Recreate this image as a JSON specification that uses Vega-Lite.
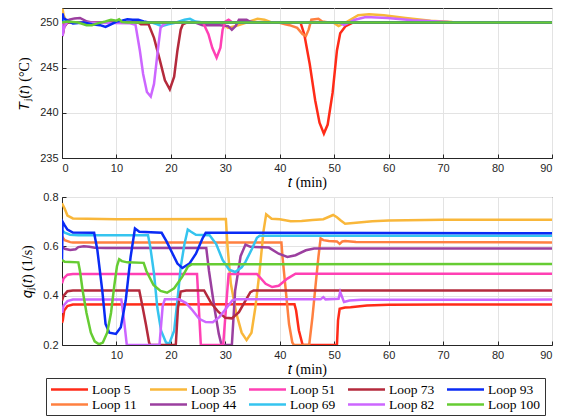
{
  "$schema": "https://vega.github.io/schema/vega-lite/v6.json",
  "background": "white",
  "padding": {"left": 17, "top": 7, "right": 8, "bottom": 0},
  "spacing": 0,
  "config": {
    "view": {"stroke": "#262626", "strokeWidth": 1},
    "axis": {
      "labelFont": "Liberation Sans", "labelFontSize": 11, "labelColor": "#262626",
      "titleFont": "Liberation Serif", "titleFontSize": 14, "titleFontWeight": "normal", "titleColor": "#000000",
      "domainColor": "#262626", "tickColor": "#262626", "tickSize": -4, "labelPadding": 8,
      "gridColor": "#e3e3e3", "gridWidth": 1
    },
    "legend": {
      "orient": "none", "legendX": -16, "legendY": 370, "direction": "horizontal", "columns": 5, "gridAlign": "all",
      "symbolType": "M-3,0L3,0", "symbolSize": 152, "symbolStrokeWidth": 2.5, "symbolOffset": 12,
      "labelFont": "Liberation Serif", "labelFontSize": 13.5, "labelColor": "#000000", "labelLimit": 0, "labelOffset": 15,
      "strokeColor": "#333333", "fillColor": "white", "padding": 4, "rowPadding": 1, "columnPadding": 0
    }
  },
  "datasets": {
    "T": [
      {"loop":"Loop 5","t":0,"v":250},{"loop":"Loop 5","t":0.1,"v":248.6},{"loop":"Loop 5","t":0.3,"v":249.6},{"loop":"Loop 5","t":0.7,"v":250.1},{"loop":"Loop 5","t":1.5,"v":250},{"loop":"Loop 5","t":43.8,"v":250},{"loop":"Loop 5","t":44.5,"v":248.7},{"loop":"Loop 5","t":45.5,"v":245.4},{"loop":"Loop 5","t":46.5,"v":241.4},{"loop":"Loop 5","t":47.3,"v":238.9},{"loop":"Loop 5","t":48.1,"v":237.7},{"loop":"Loop 5","t":48.8,"v":238.7},{"loop":"Loop 5","t":49.7,"v":242.2},{"loop":"Loop 5","t":50.5,"v":246.9},{"loop":"Loop 5","t":51.1,"v":248.8},{"loop":"Loop 5","t":52.1,"v":249.6},{"loop":"Loop 5","t":53.5,"v":250},{"loop":"Loop 5","t":90,"v":250},
      {"loop":"Loop 11","t":0,"v":250},{"loop":"Loop 11","t":0.1,"v":249.2},{"loop":"Loop 11","t":0.4,"v":250.1},{"loop":"Loop 11","t":1,"v":250},{"loop":"Loop 11","t":39.8,"v":250},{"loop":"Loop 11","t":41,"v":249.8},{"loop":"Loop 11","t":41.8,"v":249.7},{"loop":"Loop 11","t":43.2,"v":249.4},{"loop":"Loop 11","t":44.2,"v":248.7},{"loop":"Loop 11","t":44.8,"v":248.5},{"loop":"Loop 11","t":45.3,"v":249.2},{"loop":"Loop 11","t":45.8,"v":250.3},{"loop":"Loop 11","t":47.1,"v":250.4},{"loop":"Loop 11","t":47.8,"v":250.1},{"loop":"Loop 11","t":49,"v":250},{"loop":"Loop 11","t":90,"v":250},
      {"loop":"Loop 35","t":0,"v":250},{"loop":"Loop 35","t":0.1,"v":251.5},{"loop":"Loop 35","t":0.3,"v":250.8},{"loop":"Loop 35","t":0.8,"v":250.1},{"loop":"Loop 35","t":1.5,"v":250},{"loop":"Loop 35","t":29.2,"v":250},{"loop":"Loop 35","t":30.5,"v":249.4},{"loop":"Loop 35","t":31.9,"v":249.6},{"loop":"Loop 35","t":33.9,"v":250},{"loop":"Loop 35","t":35.9,"v":250.4},{"loop":"Loop 35","t":37.2,"v":250.3},{"loop":"Loop 35","t":38.5,"v":250},{"loop":"Loop 35","t":49.8,"v":250},{"loop":"Loop 35","t":50.8,"v":249.6},{"loop":"Loop 35","t":52.1,"v":250},{"loop":"Loop 35","t":54.4,"v":250.8},{"loop":"Loop 35","t":56.4,"v":250.9},{"loop":"Loop 35","t":59.1,"v":250.8},{"loop":"Loop 35","t":63.1,"v":250.5},{"loop":"Loop 35","t":67.7,"v":250.2},{"loop":"Loop 35","t":71.7,"v":250.05},{"loop":"Loop 35","t":75,"v":250},{"loop":"Loop 35","t":90,"v":250},
      {"loop":"Loop 44","t":0,"v":250},{"loop":"Loop 44","t":0.5,"v":250.2},{"loop":"Loop 44","t":1.3,"v":250.3},{"loop":"Loop 44","t":2.3,"v":250.45},{"loop":"Loop 44","t":3.3,"v":250.5},{"loop":"Loop 44","t":4.6,"v":250.1},{"loop":"Loop 44","t":5.5,"v":250},{"loop":"Loop 44","t":24.5,"v":250},{"loop":"Loop 44","t":25.8,"v":249.7},{"loop":"Loop 44","t":29,"v":249.7},{"loop":"Loop 44","t":30.5,"v":249.6},{"loop":"Loop 44","t":31.2,"v":249.2},{"loop":"Loop 44","t":31.9,"v":249.6},{"loop":"Loop 44","t":32.5,"v":250.3},{"loop":"Loop 44","t":33.9,"v":250.3},{"loop":"Loop 44","t":34.5,"v":250.1},{"loop":"Loop 44","t":35.5,"v":250},{"loop":"Loop 44","t":90,"v":250},
      {"loop":"Loop 51","t":0,"v":250},{"loop":"Loop 51","t":0.1,"v":249},{"loop":"Loop 51","t":0.4,"v":250},{"loop":"Loop 51","t":25.9,"v":250},{"loop":"Loop 51","t":26.9,"v":248.7},{"loop":"Loop 51","t":27.6,"v":247.2},{"loop":"Loop 51","t":28.4,"v":246.1},{"loop":"Loop 51","t":29.1,"v":247.2},{"loop":"Loop 51","t":29.5,"v":249.2},{"loop":"Loop 51","t":30,"v":250.1},{"loop":"Loop 51","t":30.6,"v":250.3},{"loop":"Loop 51","t":31.3,"v":250},{"loop":"Loop 51","t":90,"v":250},
      {"loop":"Loop 69","t":0,"v":250},{"loop":"Loop 69","t":0.3,"v":250.2},{"loop":"Loop 69","t":1,"v":250},{"loop":"Loop 69","t":16.5,"v":250},{"loop":"Loop 69","t":17.5,"v":249.8},{"loop":"Loop 69","t":18.3,"v":249.6},{"loop":"Loop 69","t":19.5,"v":249.8},{"loop":"Loop 69","t":21,"v":250},{"loop":"Loop 69","t":22.5,"v":250.3},{"loop":"Loop 69","t":23.5,"v":250.4},{"loop":"Loop 69","t":24.5,"v":250.1},{"loop":"Loop 69","t":26,"v":250},{"loop":"Loop 69","t":90,"v":250},
      {"loop":"Loop 73","t":0,"v":250},{"loop":"Loop 73","t":0.1,"v":248.5},{"loop":"Loop 73","t":0.4,"v":249.5},{"loop":"Loop 73","t":1,"v":250},{"loop":"Loop 73","t":14,"v":250},{"loop":"Loop 73","t":14.5,"v":249.8},{"loop":"Loop 73","t":15.9,"v":249.8},{"loop":"Loop 73","t":16.9,"v":248.3},{"loop":"Loop 73","t":17.9,"v":246},{"loop":"Loop 73","t":18.9,"v":243.6},{"loop":"Loop 73","t":19.8,"v":242.6},{"loop":"Loop 73","t":20.6,"v":244},{"loop":"Loop 73","t":21.2,"v":246.9},{"loop":"Loop 73","t":21.8,"v":249.2},{"loop":"Loop 73","t":22.2,"v":249.8},{"loop":"Loop 73","t":23,"v":250},{"loop":"Loop 73","t":90,"v":250},
      {"loop":"Loop 82","t":0,"v":250},{"loop":"Loop 82","t":0.1,"v":248.5},{"loop":"Loop 82","t":0.4,"v":249.5},{"loop":"Loop 82","t":1,"v":250.1},{"loop":"Loop 82","t":2,"v":250},{"loop":"Loop 82","t":12.5,"v":249.9},{"loop":"Loop 82","t":13.5,"v":249.75},{"loop":"Loop 82","t":14.3,"v":246.9},{"loop":"Loop 82","t":14.9,"v":244.3},{"loop":"Loop 82","t":15.6,"v":242.3},{"loop":"Loop 82","t":16.3,"v":241.8},{"loop":"Loop 82","t":16.9,"v":243.2},{"loop":"Loop 82","t":17.6,"v":246.9},{"loop":"Loop 82","t":18.1,"v":249.4},{"loop":"Loop 82","t":18.6,"v":249.75},{"loop":"Loop 82","t":19.5,"v":250},{"loop":"Loop 82","t":51,"v":250},{"loop":"Loop 82","t":51.8,"v":249.7},{"loop":"Loop 82","t":53.8,"v":250.3},{"loop":"Loop 82","t":55.8,"v":250.6},{"loop":"Loop 82","t":59.8,"v":250.5},{"loop":"Loop 82","t":64.4,"v":250.25},{"loop":"Loop 82","t":71,"v":250.05},{"loop":"Loop 82","t":75,"v":250},{"loop":"Loop 82","t":90,"v":250},
      {"loop":"Loop 93","t":0,"v":250},{"loop":"Loop 93","t":0.1,"v":251},{"loop":"Loop 93","t":0.3,"v":250.5},{"loop":"Loop 93","t":1,"v":250.2},{"loop":"Loop 93","t":2,"v":249.9},{"loop":"Loop 93","t":4,"v":250},{"loop":"Loop 93","t":5.5,"v":249.8},{"loop":"Loop 93","t":7,"v":249.7},{"loop":"Loop 93","t":8,"v":249.5},{"loop":"Loop 93","t":9,"v":249.8},{"loop":"Loop 93","t":10,"v":250.1},{"loop":"Loop 93","t":11,"v":250.2},{"loop":"Loop 93","t":12,"v":250.35},{"loop":"Loop 93","t":13,"v":250.3},{"loop":"Loop 93","t":14,"v":250.3},{"loop":"Loop 93","t":15,"v":250.1},{"loop":"Loop 93","t":16,"v":250},{"loop":"Loop 93","t":90,"v":250},
      {"loop":"Loop 100","t":0,"v":250},{"loop":"Loop 100","t":1,"v":250.1},{"loop":"Loop 100","t":3,"v":250},{"loop":"Loop 100","t":4.5,"v":249.7},{"loop":"Loop 100","t":5.5,"v":249.7},{"loop":"Loop 100","t":6.5,"v":249.9},{"loop":"Loop 100","t":8,"v":250.1},{"loop":"Loop 100","t":9,"v":250.3},{"loop":"Loop 100","t":10,"v":250.2},{"loop":"Loop 100","t":10.5,"v":250.35},{"loop":"Loop 100","t":11,"v":250.05},{"loop":"Loop 100","t":12,"v":250},{"loop":"Loop 100","t":90,"v":250}
    ],
    "q": [
      {"loop":"Loop 5","t":0,"v":0.29},{"loop":"Loop 5","t":0.15,"v":0.3},{"loop":"Loop 5","t":0.4,"v":0.34},{"loop":"Loop 5","t":1,"v":0.358},{"loop":"Loop 5","t":2,"v":0.364},{"loop":"Loop 5","t":42.7,"v":0.365},{"loop":"Loop 5","t":43,"v":0.34},{"loop":"Loop 5","t":43.5,"v":0.26},{"loop":"Loop 5","t":44.2,"v":0.2},{"loop":"Loop 5","t":50.5,"v":0.2},{"loop":"Loop 5","t":50.7,"v":0.3},{"loop":"Loop 5","t":51,"v":0.347},{"loop":"Loop 5","t":52,"v":0.352},{"loop":"Loop 5","t":53,"v":0.353},{"loop":"Loop 5","t":56,"v":0.36},{"loop":"Loop 5","t":60,"v":0.363},{"loop":"Loop 5","t":70,"v":0.364},{"loop":"Loop 5","t":90,"v":0.364},
      {"loop":"Loop 11","t":0,"v":0.64},{"loop":"Loop 11","t":0.5,"v":0.625},{"loop":"Loop 11","t":1.5,"v":0.617},{"loop":"Loop 11","t":2,"v":0.616},{"loop":"Loop 11","t":40.3,"v":0.616},{"loop":"Loop 11","t":40.5,"v":0.557},{"loop":"Loop 11","t":41.1,"v":0.421},{"loop":"Loop 11","t":41.7,"v":0.285},{"loop":"Loop 11","t":42.3,"v":0.21},{"loop":"Loop 11","t":42.6,"v":0.2},{"loop":"Loop 11","t":45.4,"v":0.2},{"loop":"Loop 11","t":46,"v":0.313},{"loop":"Loop 11","t":46.6,"v":0.448},{"loop":"Loop 11","t":47.1,"v":0.557},{"loop":"Loop 11","t":47.5,"v":0.632},{"loop":"Loop 11","t":48,"v":0.625},{"loop":"Loop 11","t":49,"v":0.622},{"loop":"Loop 11","t":50.5,"v":0.62},{"loop":"Loop 11","t":51,"v":0.61},{"loop":"Loop 11","t":51.5,"v":0.62},{"loop":"Loop 11","t":52,"v":0.622},{"loop":"Loop 11","t":54,"v":0.618},{"loop":"Loop 11","t":90,"v":0.616},
      {"loop":"Loop 35","t":0,"v":0.775},{"loop":"Loop 35","t":0.5,"v":0.752},{"loop":"Loop 35","t":1,"v":0.725},{"loop":"Loop 35","t":2,"v":0.713},{"loop":"Loop 35","t":10,"v":0.71},{"loop":"Loop 35","t":30.1,"v":0.711},{"loop":"Loop 35","t":30.4,"v":0.6},{"loop":"Loop 35","t":31,"v":0.45},{"loop":"Loop 35","t":32,"v":0.33},{"loop":"Loop 35","t":33,"v":0.25},{"loop":"Loop 35","t":33.9,"v":0.22},{"loop":"Loop 35","t":34.8,"v":0.25},{"loop":"Loop 35","t":35.5,"v":0.35},{"loop":"Loop 35","t":36.3,"v":0.5},{"loop":"Loop 35","t":37,"v":0.66},{"loop":"Loop 35","t":37.5,"v":0.73},{"loop":"Loop 35","t":38.5,"v":0.712},{"loop":"Loop 35","t":40,"v":0.71},{"loop":"Loop 35","t":42,"v":0.702},{"loop":"Loop 35","t":44,"v":0.703},{"loop":"Loop 35","t":46,"v":0.707},{"loop":"Loop 35","t":48,"v":0.71},{"loop":"Loop 35","t":49.8,"v":0.727},{"loop":"Loop 35","t":50.5,"v":0.718},{"loop":"Loop 35","t":51.2,"v":0.705},{"loop":"Loop 35","t":52,"v":0.692},{"loop":"Loop 35","t":54,"v":0.696},{"loop":"Loop 35","t":57,"v":0.702},{"loop":"Loop 35","t":60,"v":0.705},{"loop":"Loop 35","t":70,"v":0.708},{"loop":"Loop 35","t":90,"v":0.708},
      {"loop":"Loop 44","t":0,"v":0.6},{"loop":"Loop 44","t":0.5,"v":0.59},{"loop":"Loop 44","t":1.5,"v":0.585},{"loop":"Loop 44","t":2.5,"v":0.588},{"loop":"Loop 44","t":3,"v":0.597},{"loop":"Loop 44","t":4,"v":0.6},{"loop":"Loop 44","t":5,"v":0.598},{"loop":"Loop 44","t":6,"v":0.594},{"loop":"Loop 44","t":8,"v":0.593},{"loop":"Loop 44","t":26.5,"v":0.593},{"loop":"Loop 44","t":27,"v":0.5},{"loop":"Loop 44","t":28,"v":0.35},{"loop":"Loop 44","t":28.8,"v":0.245},{"loop":"Loop 44","t":29.3,"v":0.2},{"loop":"Loop 44","t":31.2,"v":0.2},{"loop":"Loop 44","t":31.8,"v":0.42},{"loop":"Loop 44","t":32.8,"v":0.56},{"loop":"Loop 44","t":33.7,"v":0.607},{"loop":"Loop 44","t":34.6,"v":0.598},{"loop":"Loop 44","t":38,"v":0.595},{"loop":"Loop 44","t":39.8,"v":0.57},{"loop":"Loop 44","t":41.4,"v":0.557},{"loop":"Loop 44","t":42.9,"v":0.564},{"loop":"Loop 44","t":44.8,"v":0.584},{"loop":"Loop 44","t":46.3,"v":0.591},{"loop":"Loop 44","t":90,"v":0.591},
      {"loop":"Loop 51","t":0,"v":0.45},{"loop":"Loop 51","t":0.3,"v":0.47},{"loop":"Loop 51","t":1,"v":0.485},{"loop":"Loop 51","t":2,"v":0.488},{"loop":"Loop 51","t":24.8,"v":0.488},{"loop":"Loop 51","t":25.5,"v":0.2},{"loop":"Loop 51","t":29.6,"v":0.2},{"loop":"Loop 51","t":30.6,"v":0.488},{"loop":"Loop 51","t":35.8,"v":0.488},{"loop":"Loop 51","t":37.4,"v":0.448},{"loop":"Loop 51","t":38.6,"v":0.435},{"loop":"Loop 51","t":39.8,"v":0.44},{"loop":"Loop 51","t":41.4,"v":0.469},{"loop":"Loop 51","t":42.9,"v":0.489},{"loop":"Loop 51","t":90,"v":0.489},
      {"loop":"Loop 69","t":0,"v":0.665},{"loop":"Loop 69","t":0.5,"v":0.655},{"loop":"Loop 69","t":1.5,"v":0.647},{"loop":"Loop 69","t":3,"v":0.645},{"loop":"Loop 69","t":15.8,"v":0.645},{"loop":"Loop 69","t":16.2,"v":0.6},{"loop":"Loop 69","t":16.9,"v":0.49},{"loop":"Loop 69","t":17.5,"v":0.353},{"loop":"Loop 69","t":18.2,"v":0.258},{"loop":"Loop 69","t":19.1,"v":0.21},{"loop":"Loop 69","t":19.7,"v":0.205},{"loop":"Loop 69","t":20.6,"v":0.258},{"loop":"Loop 69","t":21.2,"v":0.38},{"loop":"Loop 69","t":21.8,"v":0.516},{"loop":"Loop 69","t":22.5,"v":0.61},{"loop":"Loop 69","t":23.1,"v":0.668},{"loop":"Loop 69","t":23.7,"v":0.659},{"loop":"Loop 69","t":24.6,"v":0.647},{"loop":"Loop 69","t":27.1,"v":0.645},{"loop":"Loop 69","t":28.3,"v":0.61},{"loop":"Loop 69","t":29.5,"v":0.545},{"loop":"Loop 69","t":30.7,"v":0.505},{"loop":"Loop 69","t":31.8,"v":0.496},{"loop":"Loop 69","t":33,"v":0.515},{"loop":"Loop 69","t":33.7,"v":0.537},{"loop":"Loop 69","t":34.9,"v":0.59},{"loop":"Loop 69","t":35.8,"v":0.635},{"loop":"Loop 69","t":36.3,"v":0.643},{"loop":"Loop 69","t":90,"v":0.643},
      {"loop":"Loop 73","t":0,"v":0.38},{"loop":"Loop 73","t":0.3,"v":0.4},{"loop":"Loop 73","t":1,"v":0.418},{"loop":"Loop 73","t":2,"v":0.421},{"loop":"Loop 73","t":14.2,"v":0.421},{"loop":"Loop 73","t":14.8,"v":0.354},{"loop":"Loop 73","t":15.4,"v":0.285},{"loop":"Loop 73","t":16,"v":0.21},{"loop":"Loop 73","t":16.2,"v":0.2},{"loop":"Loop 73","t":20.9,"v":0.2},{"loop":"Loop 73","t":21.3,"v":0.35},{"loop":"Loop 73","t":21.8,"v":0.417},{"loop":"Loop 73","t":22.8,"v":0.421},{"loop":"Loop 73","t":26.1,"v":0.421},{"loop":"Loop 73","t":27.4,"v":0.37},{"loop":"Loop 73","t":28.7,"v":0.335},{"loop":"Loop 73","t":30,"v":0.31},{"loop":"Loop 73","t":31.2,"v":0.308},{"loop":"Loop 73","t":32.5,"v":0.333},{"loop":"Loop 73","t":33.7,"v":0.38},{"loop":"Loop 73","t":34.6,"v":0.414},{"loop":"Loop 73","t":35.2,"v":0.421},{"loop":"Loop 73","t":90,"v":0.421},
      {"loop":"Loop 82","t":0,"v":0.33},{"loop":"Loop 82","t":0.3,"v":0.36},{"loop":"Loop 82","t":1,"v":0.378},{"loop":"Loop 82","t":2,"v":0.384},{"loop":"Loop 82","t":10.9,"v":0.384},{"loop":"Loop 82","t":11.4,"v":0.3},{"loop":"Loop 82","t":11.9,"v":0.2},{"loop":"Loop 82","t":17.9,"v":0.2},{"loop":"Loop 82","t":18.5,"v":0.36},{"loop":"Loop 82","t":18.9,"v":0.385},{"loop":"Loop 82","t":21.5,"v":0.385},{"loop":"Loop 82","t":22.8,"v":0.37},{"loop":"Loop 82","t":24,"v":0.34},{"loop":"Loop 82","t":25.2,"v":0.306},{"loop":"Loop 82","t":26.4,"v":0.293},{"loop":"Loop 82","t":27.7,"v":0.292},{"loop":"Loop 82","t":28.9,"v":0.313},{"loop":"Loop 82","t":30.1,"v":0.347},{"loop":"Loop 82","t":31.3,"v":0.381},{"loop":"Loop 82","t":32,"v":0.385},{"loop":"Loop 82","t":47.5,"v":0.385},{"loop":"Loop 82","t":48,"v":0.394},{"loop":"Loop 82","t":48.4,"v":0.385},{"loop":"Loop 82","t":50.8,"v":0.387},{"loop":"Loop 82","t":51.1,"v":0.415},{"loop":"Loop 82","t":51.8,"v":0.374},{"loop":"Loop 82","t":52.8,"v":0.38},{"loop":"Loop 82","t":55,"v":0.383},{"loop":"Loop 82","t":90,"v":0.384},
      {"loop":"Loop 93","t":0,"v":0.545},{"loop":"Loop 93","t":0.1,"v":0.7},{"loop":"Loop 93","t":0.5,"v":0.685},{"loop":"Loop 93","t":1,"v":0.668},{"loop":"Loop 93","t":2,"v":0.656},{"loop":"Loop 93","t":5.9,"v":0.655},{"loop":"Loop 93","t":6.5,"v":0.584},{"loop":"Loop 93","t":7.4,"v":0.42},{"loop":"Loop 93","t":8,"v":0.285},{"loop":"Loop 93","t":8.7,"v":0.25},{"loop":"Loop 93","t":9.9,"v":0.245},{"loop":"Loop 93","t":10.8,"v":0.272},{"loop":"Loop 93","t":11.7,"v":0.38},{"loop":"Loop 93","t":12.6,"v":0.557},{"loop":"Loop 93","t":13.4,"v":0.672},{"loop":"Loop 93","t":14.2,"v":0.659},{"loop":"Loop 93","t":18.3,"v":0.655},{"loop":"Loop 93","t":19.2,"v":0.62},{"loop":"Loop 93","t":20,"v":0.584},{"loop":"Loop 93","t":21.2,"v":0.53},{"loop":"Loop 93","t":22.1,"v":0.512},{"loop":"Loop 93","t":23.4,"v":0.53},{"loop":"Loop 93","t":24.6,"v":0.57},{"loop":"Loop 93","t":25.8,"v":0.632},{"loop":"Loop 93","t":26.4,"v":0.655},{"loop":"Loop 93","t":90,"v":0.653},
      {"loop":"Loop 100","t":0,"v":0.545},{"loop":"Loop 100","t":0.5,"v":0.537},{"loop":"Loop 100","t":3,"v":0.535},{"loop":"Loop 100","t":3.3,"v":0.5},{"loop":"Loop 100","t":3.8,"v":0.42},{"loop":"Loop 100","t":4.5,"v":0.33},{"loop":"Loop 100","t":5.3,"v":0.25},{"loop":"Loop 100","t":6,"v":0.215},{"loop":"Loop 100","t":6.8,"v":0.203},{"loop":"Loop 100","t":7.5,"v":0.21},{"loop":"Loop 100","t":8.3,"v":0.25},{"loop":"Loop 100","t":9,"v":0.33},{"loop":"Loop 100","t":9.6,"v":0.44},{"loop":"Loop 100","t":10.1,"v":0.52},{"loop":"Loop 100","t":10.5,"v":0.548},{"loop":"Loop 100","t":11,"v":0.54},{"loop":"Loop 100","t":12,"v":0.535},{"loop":"Loop 100","t":15,"v":0.533},{"loop":"Loop 100","t":15.5,"v":0.5},{"loop":"Loop 100","t":16.8,"v":0.443},{"loop":"Loop 100","t":18.1,"v":0.419},{"loop":"Loop 100","t":19.3,"v":0.412},{"loop":"Loop 100","t":20.6,"v":0.43},{"loop":"Loop 100","t":22.1,"v":0.477},{"loop":"Loop 100","t":23.1,"v":0.517},{"loop":"Loop 100","t":23.8,"v":0.527},{"loop":"Loop 100","t":90,"v":0.528}
    ]
  },
  "vconcat": [
    {
      "width": 490, "height": 150,
      "data": {"name": "T"},
      "mark": {"type": "line", "strokeWidth": 2.5, "clip": true},
      "encoding": {
        "x": {"field": "t", "type": "quantitative", "scale": {"domain": [0, 90], "nice": false},
              "axis": {"values": [0,10,20,30,40,50,60,70,80,90], "title": "𝑡 (min)", "titlePadding": 2}},
        "y": {"field": "v", "type": "quantitative", "scale": {"domain": [235, 251.6], "nice": false, "zero": false},
              "axis": {"values": [235,240,245,250], "title": "𝑇ⱼ(𝑡) (°C)", "titlePadding": 8}},
        "color": {"field": "loop", "type": "nominal",
                  "scale": {"domain": ["Loop 5","Loop 35","Loop 51","Loop 73","Loop 93","Loop 11","Loop 44","Loop 69","Loop 82","Loop 100"],
                            "range": ["#ff2b18","#f9b73a","#ff40b4","#b42a3c","#0a2bf5","#ff8040","#9b3f9f","#35c4ef","#cc66ff","#66cc33"]},
                  "legend": {"title": null}}
      }
    },
    {
      "width": 490, "height": 148,
      "data": {"name": "q"},
      "mark": {"type": "line", "strokeWidth": 2.5, "clip": true},
      "encoding": {
        "x": {"field": "t", "type": "quantitative", "scale": {"domain": [0, 90], "nice": false},
              "axis": {"values": [10,20,30,40,50,60,70,80,90], "title": "𝑡 (min)", "titlePadding": 2}},
        "y": {"field": "v", "type": "quantitative", "scale": {"domain": [0.2, 0.8], "nice": false, "zero": false},
              "axis": {"values": [0.2,0.4,0.6,0.8], "format": ".1f", "title": "𝑞ⱼ(𝑡) (1/s)", "titlePadding": 8}},
        "color": {"field": "loop", "type": "nominal",
                  "scale": {"domain": ["Loop 5","Loop 35","Loop 51","Loop 73","Loop 93","Loop 11","Loop 44","Loop 69","Loop 82","Loop 100"],
                            "range": ["#ff2b18","#f9b73a","#ff40b4","#b42a3c","#0a2bf5","#ff8040","#9b3f9f","#35c4ef","#cc66ff","#66cc33"]},
                  "legend": {"title": null}}
      }
    }
  ]
}
